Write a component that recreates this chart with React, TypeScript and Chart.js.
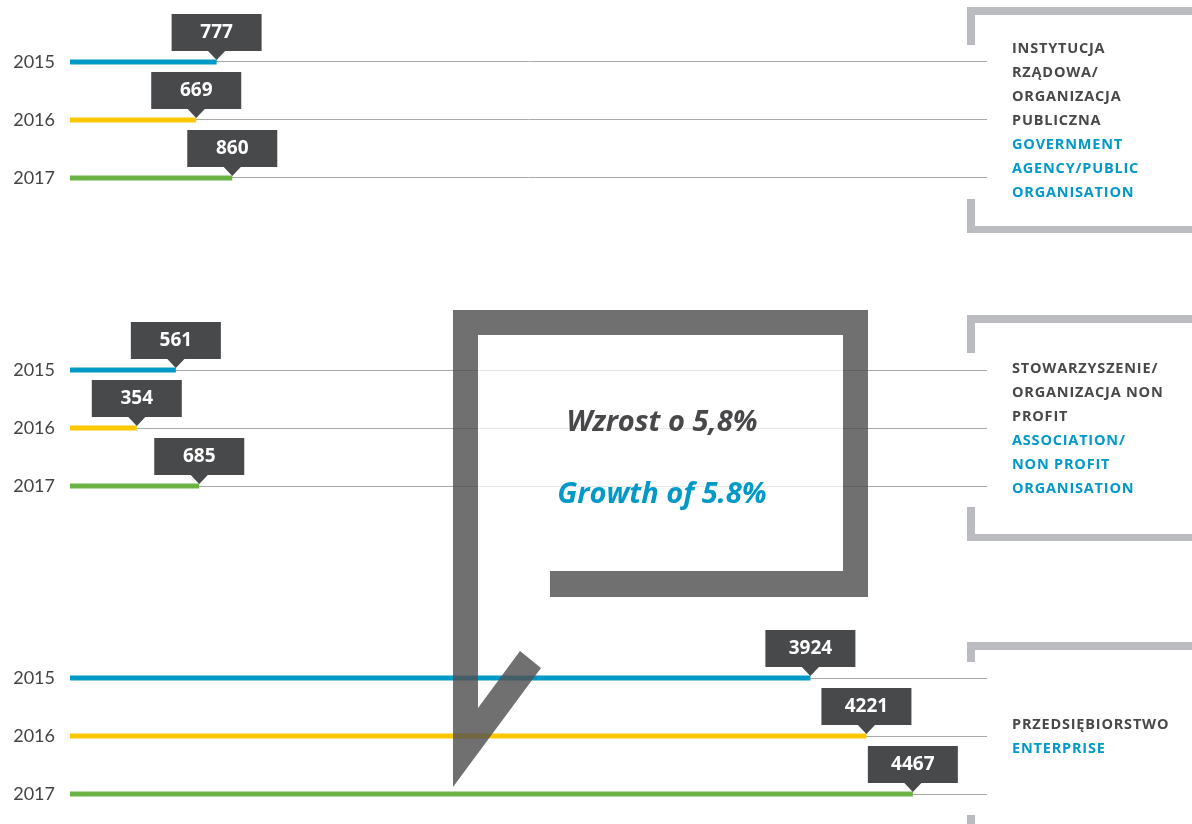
import { useEffect, useRef } from "react";
import { Chart, registerables } from "chart.js";

Chart.register(...registerables);

const YEARS = ["2015", "2016", "2017"];
const GROUPS_PL = [
  ["INSTYTUCJA", "RZĄDOWA/", "ORGANIZACJA", "PUBLICZNA"],
  ["STOWARZYSZENIE/", "ORGANIZACJA NON", "PROFIT"],
  ["PRZEDSIĘBIORSTWO"],
];
const GROUPS_EN = [
  ["GOVERNMENT", "AGENCY/PUBLIC", "ORGANISATION"],
  ["ASSOCIATION/", "NON PROFIT", "ORGANISATION"],
  ["ENTERPRISE"],
];
const VALUES_2015 = [777, 561, 3924];
const VALUES_2016 = [669, 354, 4221];
const VALUES_2017 = [860, 685, 4467];
const SERIES = [VALUES_2015, VALUES_2016, VALUES_2017];
const COLORS = ["#0099c8", "#fdc800", "#6ab344"];
const GROWTH_PL = "Wzrost o 5,8%";
const GROWTH_EN = "Growth of 5.8%";

const GROUP_SPAN = 308 / 58;
const rowPos = (g: number, i: number) => g * GROUP_SPAN + i;

const DARK = "#48484a";
const BLUE = "#0099c8";
const BOLD_FONT = "'Open Sans', 'Noto Sans', sans-serif";

const overlayPlugin = {
  id: "overlay",
  afterDatasetsDraw(chart: any) {
    const ctx = chart.ctx as CanvasRenderingContext2D;
    const xs = chart.scales.x;
    const ys = chart.scales.y;
    ctx.save();

    // speech bubble
    ctx.fillStyle = "rgba(255,255,255,0.7)";
    ctx.fillRect(478, 335, 365, 236);
    ctx.beginPath();
    const pts = [
      [453, 310], [868, 310], [868, 597], [550, 597], [550, 571], [843, 571],
      [843, 335], [478, 335], [478, 708], [520, 651], [541, 668], [453, 787],
    ];
    pts.forEach(([x, y], k) => (k ? ctx.lineTo(x, y) : ctx.moveTo(x, y)));
    ctx.closePath();
    ctx.fillStyle = "rgba(80,80,80,0.82)";
    ctx.fill();

    ctx.textAlign = "center";
    ctx.textBaseline = "alphabetic";
    ctx.font = `italic bold 29px ${BOLD_FONT}`;
    ctx.fillStyle = DARK;
    ctx.fillText(GROWTH_PL, 662, 431);
    ctx.fillStyle = BLUE;
    ctx.fillText(GROWTH_EN, 662, 503);

    // callouts
    ctx.font = `bold 19px ${BOLD_FONT}`;
    ctx.textBaseline = "middle";
    SERIES.forEach((vals, i) => {
      vals.forEach((v, g) => {
        const px = xs.getPixelForValue(v);
        const py = ys.getPixelForValue(rowPos(g, i));
        ctx.fillStyle = "#48494b";
        ctx.fillRect(px - 45, py - 48, 90, 37);
        ctx.beginPath();
        ctx.moveTo(px - 9, py - 11.5);
        ctx.lineTo(px + 9, py - 11.5);
        ctx.lineTo(px, py - 2);
        ctx.closePath();
        ctx.fill();
        ctx.fillStyle = "#ffffff";
        ctx.fillText(String(v), px, py - 29);
      });
    });

    // right brackets with labels
    const topOff = [113, 113, 94];
    const topSeg = [38, 38, 20];
    GROUPS_PL.forEach((pl, g) => {
      const cy = ys.getPixelForValue(rowPos(g, 1));
      const top = cy - topOff[g];
      const bottom = cy + 113;
      ctx.fillStyle = "#bbbcbf";
      ctx.fillRect(967, top, 1192 - 967, 8);
      ctx.fillRect(967, top, 8, topSeg[g]);
      ctx.fillRect(967, bottom - 34, 8, 34);
      ctx.fillRect(967, bottom - 7, 1192 - 967, 7);

      const lines = [...pl.map((t) => [t, DARK]), ...GROUPS_EN[g].map((t) => [t, BLUE])];
      const lh = 24;
      const y0 = cy + 1 - ((lines.length - 1) * lh) / 2;
      ctx.font = `bold 14.5px ${BOLD_FONT}`;
      (ctx as any).letterSpacing = "0.8px";
      ctx.textAlign = "left";
      ctx.textBaseline = "middle";
      lines.forEach(([t, c], k) => {
        ctx.fillStyle = c;
        ctx.fillText(t, 1012, y0 + k * lh);
      });
      (ctx as any).letterSpacing = "0px";
    });

    ctx.restore();
  },
};

export default function App() {
  const ref = useRef<HTMLCanvasElement | null>(null);
  useEffect(() => {
    if (!ref.current) return;
    const rows: number[] = [];
    for (let g = 0; g < 3; g++) for (let i = 0; i < 3; i++) rows.push(rowPos(g, i));
    const datasets: any[] = [];
    SERIES.forEach((vals, i) => {
      vals.forEach((v, g) => {
        const y = rowPos(g, i);
        datasets.push({
          label: `${YEARS[i]}-${g}`,
          data: [{ x: 0, y }, { x: v, y }],
          borderColor: COLORS[i],
          backgroundColor: COLORS[i],
          borderWidth: 5,
          borderCapStyle: "butt",
          pointRadius: 0,
          clip: false,
        });
      });
    });
    const yMin = -62 / 58;
    const chart = new Chart(ref.current, {
      type: "line",
      data: { datasets },
      plugins: [overlayPlugin],
      options: {
        animation: false,
        responsive: false,
        layout: { padding: { left: 0, right: 205, top: 0, bottom: 0 } },
        plugins: { legend: { display: false }, tooltip: { enabled: false } },
        scales: {
          x: { type: "linear", min: 0, max: 4860, display: false },
          y: {
            type: "linear",
            reverse: true,
            min: yMin,
            max: yMin + 824 / 58,
            border: { display: false },
            grid: { color: "#aaaaaa", lineWidth: 1, drawTicks: false },
            afterBuildTicks: (s: any) => {
              s.ticks = rows.slice().map((value) => ({ value }));
            },
            afterFit: (s: any) => {
              s.width = 70;
              s.paddingTop = 0;
              s.paddingBottom = 0;
            },
            ticks: {
              padding: 15,
              color: "#444444",
              font: { family: "Lato, 'Open Sans', sans-serif", size: 18 },
              callback: (_v: any, idx: number) => YEARS[idx % 3],
            },
          },
        },
      },
    });
    return () => chart.destroy();
  }, []);
  return (
    <div style={{ position: "absolute", left: 0, top: 0, width: 1192, height: 824, background: "#fff" }}>
      <canvas ref={ref} width={1192} height={824} />
    </div>
  );
}
